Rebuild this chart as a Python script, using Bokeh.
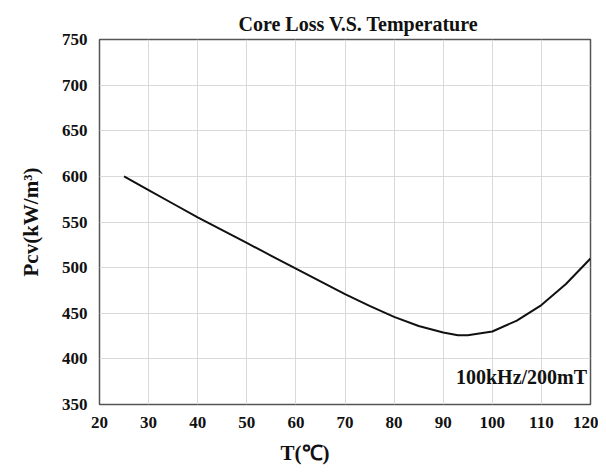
from bokeh.plotting import figure
from bokeh.models import FixedTicker, Label, Title
from bokeh.embed import file_html
from bokeh.resources import INLINE

# Data
temperature = [25, 30, 35, 40, 45, 50, 55, 60, 65, 70, 75, 80, 85, 90, 93, 95, 100, 105, 110, 115, 120]
core_loss = [600, 585, 570, 555, 541, 527, 513, 499, 485, 471, 458, 446, 436, 429, 426, 426, 430, 442, 459, 482, 510]
x_ticks = [20, 30, 40, 50, 60, 70, 80, 90, 100, 110, 120]
y_ticks = [350, 400, 450, 500, 550, 600, 650, 700, 750]

FONT = "Liberation Serif"

p = figure(width=598, height=472, x_range=(20, 120), y_range=(350, 750),
           output_backend="svg", toolbar_location=None,
           min_border_left=99, min_border_right=8, min_border_top=39, min_border_bottom=65)

p.title.text = "Core Loss V.S. Temperature"
p.title.text_font = FONT
p.title.text_font_style = "bold"
p.title.text_font_size = "20px"
p.title.align = "left"
p.title.offset = 139
p.title.text_color = "#111111"

p.line(temperature, core_loss, line_color="#111111", line_width=2)

p.xaxis.ticker = FixedTicker(ticks=x_ticks)
p.yaxis.ticker = FixedTicker(ticks=y_ticks)
for ax in (p.xaxis, p.yaxis):
    ax.axis_line_color = None
    ax.major_tick_line_color = None
    ax.minor_tick_line_color = None
    ax.major_label_text_font = FONT
    ax.major_label_text_font_style = "bold"
    ax.major_label_text_font_size = "17px"
    ax.major_label_text_color = "#111111"
    ax.axis_label_text_font = FONT
    ax.axis_label_text_font_style = "bold"
    ax.axis_label_text_font_size = "21px"
    ax.axis_label_text_color = "#111111"
p.xaxis.major_label_standoff = 6
p.yaxis.major_label_standoff = 6
p.yaxis.axis_label = "Pcv(kW/m³)"
p.yaxis.axis_label_standoff = 16

# x-axis title sits left of centre in the reference
p.add_layout(Title(text="T(℃)", align="left", offset=181, standoff=16,
                   text_font=FONT, text_font_style="bold", text_font_size="21px",
                   text_color="#111111"), "below")

p.xgrid.grid_line_color = "#d9d9d9"
p.ygrid.grid_line_color = "#d9d9d9"
p.outline_line_color = "#555555"
p.outline_line_width = 1.5

p.add_layout(Label(x=119.3, y=380, text="100kHz/200mT", text_align="right",
                   text_baseline="middle", text_font=FONT, text_font_style="bold",
                   text_font_size="20px", text_color="#111111"))

open("out.html", "w").write(file_html(p, INLINE))
